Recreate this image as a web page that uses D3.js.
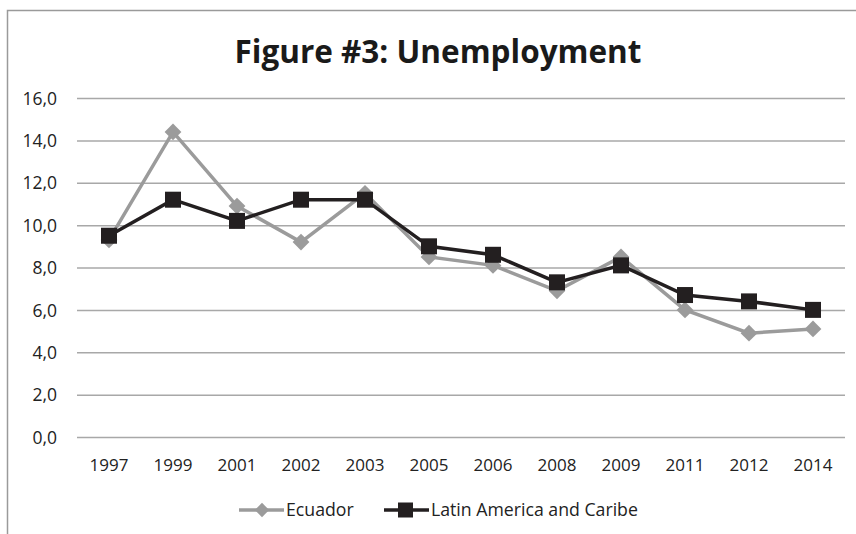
<!DOCTYPE html>
<html><head><meta charset="utf-8">
<script src="https://cdn.jsdelivr.net/npm/d3@7"></script>
<style>body{margin:0;background:#fff}svg{display:block}</style>
</head><body>
<script>
const years = ["1997","1999","2001","2002","2003","2005","2006","2008","2009","2011","2012","2014"];
const ecuador = [9.3,14.4,10.9,9.2,11.5,8.5,8.1,6.9,8.5,6.0,4.9,5.1];
const latam = [9.5,11.2,10.2,11.2,11.2,9.0,8.6,7.3,8.1,6.7,6.4,6.0];
const yTicks = [0,2,4,6,8,10,12,14,16];
const seriesNames = ["Ecuador","Latin America and Caribe"];

const W=856,H=534;
const svg=d3.select("body").append("svg").attr("width",W).attr("height",H);
const font="'Open Sans', 'Noto Sans', sans-serif";

// frame
svg.append("path").attr("d",`M7.5,${H} V10.5 H${W}`).attr("fill","none").attr("stroke","#9a9a9a").attr("stroke-width",1.5);

const x=d3.scaleBand().domain(years).range([77,845]);
const y=d3.scaleLinear().domain([0,16]).range([437,98]);

// title
svg.append("text").attr("x",438).attr("y",63).attr("text-anchor","middle")
  .style("font-family",font).style("font-weight","bold").style("font-size","31.5px").attr("fill","#1a1a1a")
  .text("Figure #3: Unemployment");

// grid
const yAxis=d3.axisLeft(y).tickValues(yTicks).tickSize(-(845-77)).tickFormat(d=>d3.format(".1f")(d).replace(".",","));
const gy=svg.append("g").attr("transform","translate(77,0)").call(yAxis);
gy.select(".domain").remove();
gy.selectAll(".tick line").attr("stroke","#a8a8a8").attr("stroke-width",1.5);
gy.selectAll(".tick text").attr("x",-20).attr("dy","0.35em").style("font-family",font).style("font-size","17.5px").attr("fill","#222");

const xAxis=d3.axisBottom(x).tickSize(0);
const gx=svg.append("g").attr("transform","translate(0,437)").call(xAxis);
gx.select(".domain").remove();
gx.selectAll(".tick text").attr("y",28).attr("dy","0.35em").style("font-family",font).style("font-size","17px").attr("fill","#222");

const cx=d=>x(d)+x.bandwidth()/2;
const line=d3.line().x((d,i)=>cx(years[i])).y(d=>y(d));

const gray="#9b9b9b", black="#231f20";
svg.append("path").datum(ecuador).attr("d",line).attr("fill","none").attr("stroke",gray).attr("stroke-width",3.5);
svg.selectAll(".dia").data(ecuador).enter().append("path")
  .attr("d",d3.symbol().type(d3.symbolDiamond2).size(180))
  .attr("transform",(d,i)=>`translate(${cx(years[i])},${y(d)})`).attr("fill",gray);

svg.append("path").datum(latam).attr("d",line).attr("fill","none").attr("stroke",black).attr("stroke-width",3.5);
svg.selectAll(".sq").data(latam).enter().append("rect")
  .attr("x",(d,i)=>cx(years[i])-8).attr("y",d=>y(d)-8).attr("width",16).attr("height",16).attr("fill",black);

// legend
const ly=510;
const lg=svg.append("g");
lg.append("line").attr("x1",239).attr("x2",284).attr("y1",ly).attr("y2",ly).attr("stroke",gray).attr("stroke-width",3.5);
lg.append("path").attr("d",d3.symbol().type(d3.symbolDiamond2).size(130)).attr("transform",`translate(262,${ly})`).attr("fill",gray);
lg.append("text").attr("x",286).attr("y",ly).attr("dy","0.35em").style("font-family",font).style("font-size","17.7px").attr("fill","#222").text(seriesNames[0]);
lg.append("line").attr("x1",384).attr("x2",429).attr("y1",ly).attr("y2",ly).attr("stroke",black).attr("stroke-width",3.5);
lg.append("rect").attr("x",398).attr("y",ly-7.5).attr("width",15).attr("height",15).attr("fill",black);
lg.append("text").attr("x",431).attr("y",ly).attr("dy","0.35em").style("font-family",font).style("font-size","17.7px").attr("fill","#222").text(seriesNames[1]);
</script>
</body></html>
